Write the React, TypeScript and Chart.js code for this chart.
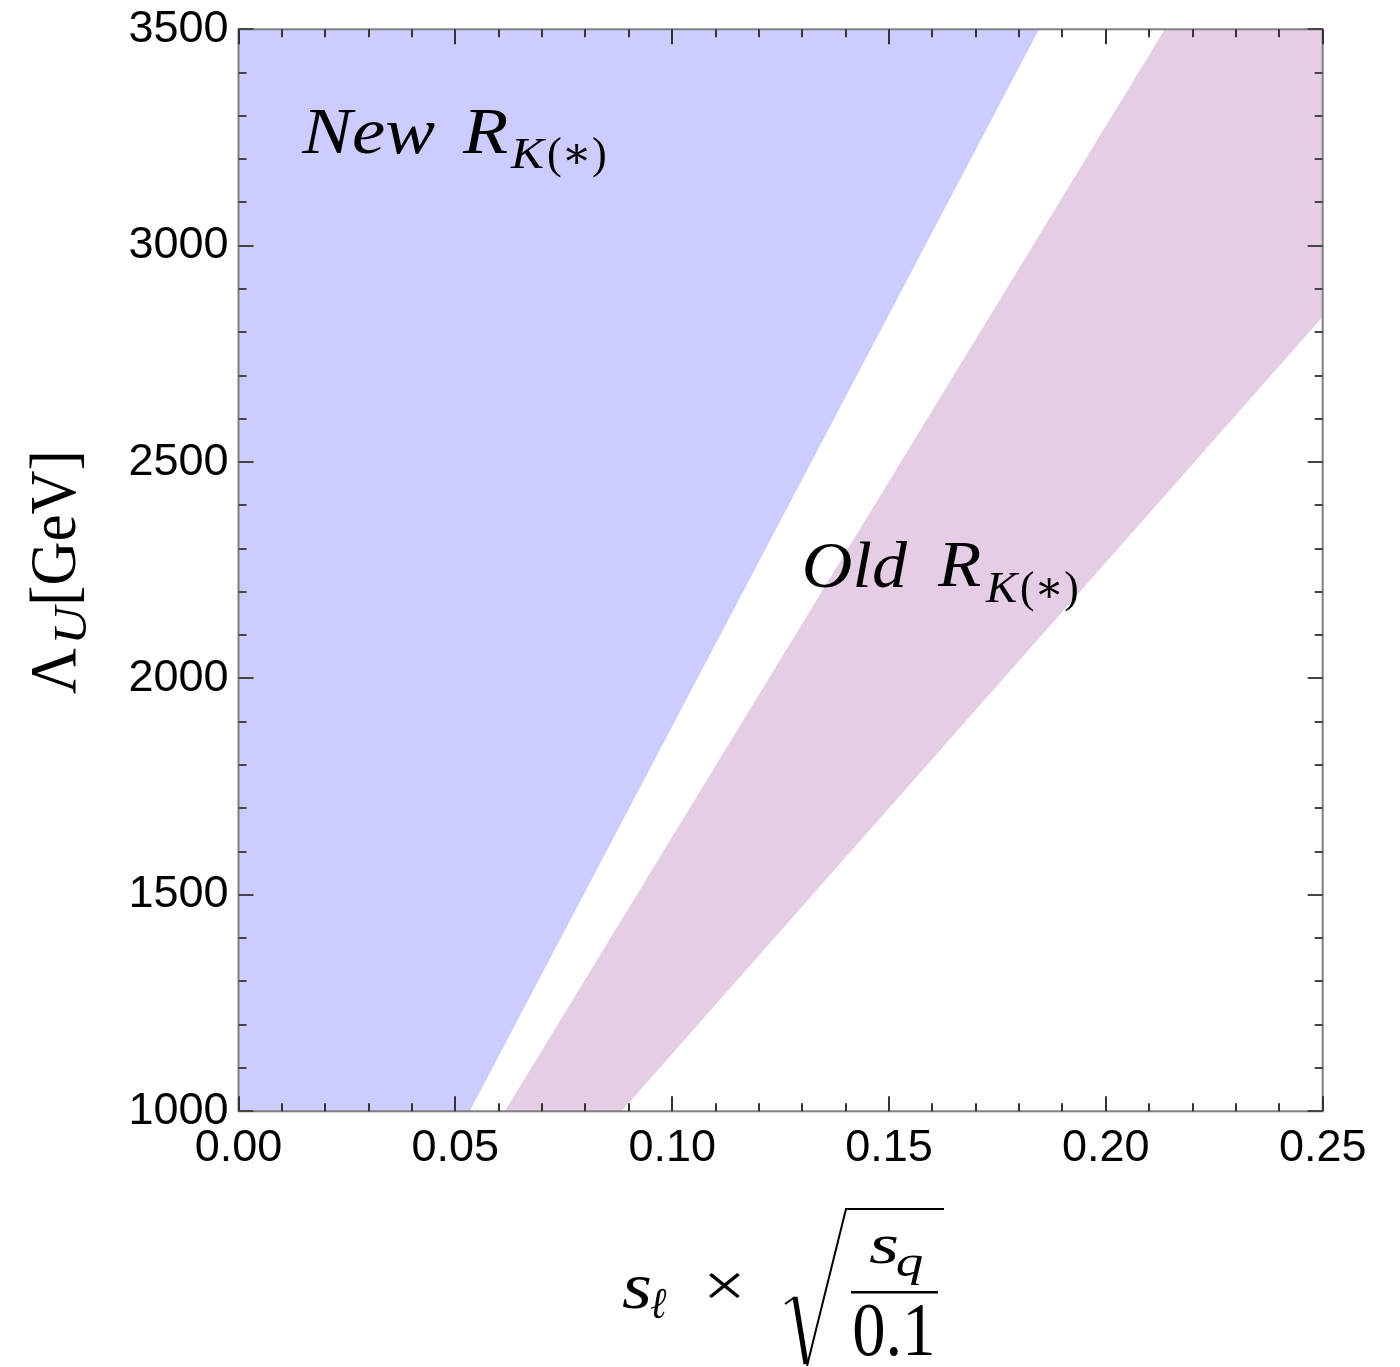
import React, { useEffect, useRef } from "react";
import { Chart, registerables } from "chart.js";

Chart.register(...registerables);

// ---- data ----
const xMin = 0;
const xMax = 0.25;
const yMin = 1000;
const yMax = 3500;
const xMajorTicks = [0, 0.05, 0.1, 0.15, 0.2, 0.25];
const yMajorTicks = [1000, 1500, 2000, 2500, 3000, 3500];
const xMinorStep = 0.01;
const yMinorStep = 100;

// "New R_K(*)" allowed region (polygon vertices)
const newRegionX = [0, 0.0533, 0.1846, 0];
const newRegionY = [1000, 1000, 3500, 3500];
// "Old R_K(*)" allowed region (polygon vertices)
const oldRegionX = [0.0614, 0.0883, 0.25, 0.25, 0.2136];
const oldRegionY = [1000, 1000, 2836, 3500, 3500];

const NEW_COLOR = "rgb(204,204,255)";
const OLD_COLOR = "rgb(229,205,230)";

const SERIF = '"Liberation Serif", "DejaVu Serif", serif';
const SANS = '"Liberation Sans", Arial, sans-serif';

function fitText(
  ctx: CanvasRenderingContext2D,
  text: string,
  x: number,
  baseline: number,
  font: string,
  width: number
) {
  ctx.save();
  ctx.font = font;
  ctx.textAlign = "left";
  ctx.textBaseline = "alphabetic";
  const m = ctx.measureText(text);
  const ink = m.actualBoundingBoxLeft + m.actualBoundingBoxRight;
  const s = width / ink;
  ctx.translate(x + m.actualBoundingBoxLeft * s, baseline);
  ctx.scale(s, 1);
  ctx.fillStyle = "#000";
  ctx.fillText(text, 0, 0);
  ctx.restore();
}

const framePlugin = {
  id: "framePlugin",
  afterDraw(chart: any) {
    const ctx: CanvasRenderingContext2D = chart.ctx;
    const { left, right, top, bottom } = chart.chartArea;
    const xs = chart.scales.x;
    const ys = chart.scales.y;
    ctx.save();
    // frame
    ctx.strokeStyle = "#7f7f7f";
    ctx.lineWidth = 2;
    ctx.strokeRect(left, top, right - left, bottom - top);
    // ticks
    ctx.strokeStyle = "#333";
    ctx.lineWidth = 2;
    const major = 15;
    const minor = 8;
    const isMajorX = (v: number) => xMajorTicks.some((t) => Math.abs(t - v) < 1e-9);
    const isMajorY = (v: number) => yMajorTicks.some((t) => Math.abs(t - v) < 1e-6);
    for (let i = 0; i <= Math.round((xMax - xMin) / xMinorStep); i++) {
      const v = xMin + i * xMinorStep;
      const p = Math.round(xs.getPixelForValue(v));
      const len = isMajorX(v) ? major : minor;
      ctx.beginPath();
      ctx.moveTo(p, bottom);
      ctx.lineTo(p, bottom - len);
      ctx.moveTo(p, top);
      ctx.lineTo(p, top + len);
      ctx.stroke();
    }
    ctx.strokeStyle = "#444";
    for (let i = 0; i <= Math.round((yMax - yMin) / yMinorStep); i++) {
      const v = yMin + i * yMinorStep;
      const p = Math.round(ys.getPixelForValue(v));
      const len = isMajorY(v) ? major : minor;
      ctx.beginPath();
      ctx.moveTo(left, p);
      ctx.lineTo(left + len, p);
      ctx.moveTo(right, p);
      ctx.lineTo(right - len, p);
      ctx.stroke();
    }

    // annotations
    fitText(ctx, "New", 301, 153, `italic 66px ${SERIF}`, 134);
    fitText(ctx, "R", 462, 153, `italic 66px ${SERIF}`, 46);
    fitText(ctx, "K", 510, 168, `italic 44px ${SERIF}`, 37);
    fitText(ctx, "(\u2217)", 548, 168, `44px ${SERIF}`, 57);

    fitText(ctx, "Old", 805, 587, `italic 66px ${SERIF}`, 103);
    fitText(ctx, "R", 937, 586, `italic 66px ${SERIF}`, 44);
    fitText(ctx, "K", 985, 602, `italic 44px ${SERIF}`, 35);
    fitText(ctx, "(\u2217)", 1021, 602, `44px ${SERIF}`, 56);

    // y axis title (rotated)
    ctx.save();
    ctx.rotate(-Math.PI / 2);
    // in rotated coords: local x = -pageY, local y = pageX
    fitText(ctx, "\u039B", -694, 75, `66px ${SERIF}`, 46);
    fitText(ctx, "U", -640, 86, `italic 46px ${SERIF}`, 36);
    fitText(ctx, "[GeV]", -602, 75, `66px ${SERIF}`, 148);
    ctx.restore();

    // x axis title: s_l x sqrt(s_q / 0.1)
    fitText(ctx, "s", 622, 1308, `italic 66px ${SERIF}`, 28);
    fitText(ctx, "\u2113", 650, 1318, `italic 44px ${SERIF}`, 17);
    fitText(ctx, "\u00D7", 708, 1306, `62px ${SERIF}`, 33);
    fitText(ctx, "s", 869, 1263, `italic 58px ${SERIF}`, 28);
    fitText(ctx, "q", 897, 1276, `italic 44px ${SERIF}`, 25);
    fitText(ctx, "0.1", 854, 1355, `76px ${SERIF}`, 78);
    // fraction bar
    ctx.fillStyle = "#000";
    ctx.fillRect(851, 1291, 87, 2.5);
    // radical
    ctx.strokeStyle = "#000";
    ctx.lineCap = "butt";
    ctx.lineJoin = "miter";
    ctx.lineWidth = 2;
    ctx.beginPath();
    ctx.moveTo(785, 1304);
    ctx.lineTo(795, 1297);
    ctx.stroke();
    ctx.lineWidth = 5;
    ctx.beginPath();
    ctx.moveTo(795, 1297);
    ctx.lineTo(806, 1364);
    ctx.stroke();
    ctx.lineWidth = 2;
    ctx.beginPath();
    ctx.moveTo(807, 1366);
    ctx.lineTo(846, 1209);
    ctx.lineTo(944, 1209);
    ctx.stroke();

    ctx.restore();
  },
};

function App() {
  const ref = useRef<HTMLCanvasElement | null>(null);
  useEffect(() => {
    if (!ref.current) return;
    const toPts = (xs: number[], ys: number[]) => xs.map((x, i) => ({ x, y: ys[i] }));
    const chart = new Chart(ref.current, {
      type: "scatter",
      data: {
        datasets: [
          {
            label: "New R_K(*)",
            data: toPts(newRegionX, newRegionY),
            showLine: true,
            fill: "shape",
            backgroundColor: NEW_COLOR,
            borderColor: "rgba(0,0,0,0)",
            borderWidth: 0,
            pointRadius: 0,
            pointHoverRadius: 0,
          } as any,
          {
            label: "Old R_K(*)",
            data: toPts(oldRegionX, oldRegionY),
            showLine: true,
            fill: "shape",
            backgroundColor: OLD_COLOR,
            borderColor: "rgba(0,0,0,0)",
            borderWidth: 0,
            pointRadius: 0,
            pointHoverRadius: 0,
          } as any,
        ],
      },
      options: {
        responsive: false,
        animation: false,
        events: [],
        layout: { padding: { left: 0, top: 29.3, right: 77.3, bottom: 0 } },
        plugins: {
          legend: { display: false },
          tooltip: { enabled: false },
          title: { display: false },
        },
        scales: {
          x: {
            type: "linear",
            min: xMin,
            max: xMax,
            grid: { display: false, drawTicks: false },
            border: { display: false },
            afterBuildTicks: (s: any) => {
              s.ticks = xMajorTicks.map((v) => ({ value: v }));
            },
            afterFit: (s: any) => {
              s.height = 1367 - 1111.3;
              s.paddingLeft = 0;
              s.paddingRight = 0;
            },
            ticks: {
              padding: 10,
              color: "#000",
              font: { family: SANS, size: 45 },
              maxRotation: 0,
              autoSkip: false,
              callback: (v: any) => Number(v).toFixed(2),
            },
          },
          y: {
            type: "linear",
            min: yMin,
            max: yMax,
            grid: { display: false, drawTicks: false },
            border: { display: false },
            afterBuildTicks: (s: any) => {
              s.ticks = yMajorTicks.map((v) => ({ value: v }));
            },
            afterFit: (s: any) => {
              s.width = 238.5;
              s.paddingTop = 0;
              s.paddingBottom = 0;
            },
            ticks: {
              padding: 10,
              color: "#000",
              font: { family: SANS, size: 45 },
              autoSkip: false,
              callback: (v: any) => String(v),
            },
          },
        },
      },
      plugins: [framePlugin],
    });
    return () => chart.destroy();
  }, []);
  return (
    <div style={{ position: "absolute", left: 0, top: 0, width: 1400, height: 1367, background: "#fff" }}>
      <canvas ref={ref} width={1400} height={1367} style={{ width: 1400, height: 1367, display: "block" }} />
    </div>
  );
}

export default App;
